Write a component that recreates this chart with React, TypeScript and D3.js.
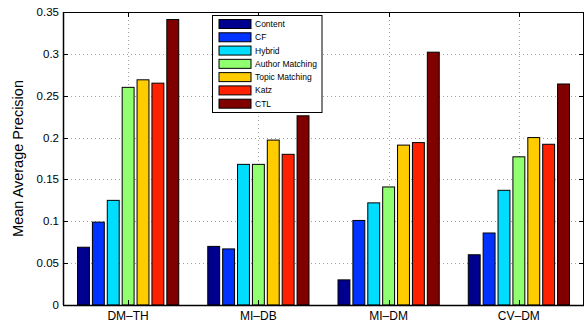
import React from "react";
import * as d3 from "d3";

const categories = ["DM–TH", "MI–DB", "MI–DM", "CV–DM"];
const methods = ["Content", "CF", "Hybrid", "Author Matching", "Topic Matching", "Katz", "CTL"];
const colors = ["#00008f", "#0033ff", "#00ddff", "#90ff70", "#ffcc00", "#ff2200", "#800000"];

const content = [0.069, 0.07, 0.03, 0.06];
const cf = [0.099, 0.067, 0.101, 0.086];
const hybrid = [0.125, 0.168, 0.122, 0.137];
const author = [0.26, 0.168, 0.141, 0.177];
const topic = [0.269, 0.197, 0.191, 0.2];
const katz = [0.265, 0.18, 0.194, 0.192];
const ctl = [0.341, 0.226, 0.302, 0.264];
const yTicks = [0, 0.05, 0.1, 0.15, 0.2, 0.25, 0.3, 0.35];

const series = [content, cf, hybrid, author, topic, katz, ctl];

const width = 587;
const height = 324;
const left = 63;
const right = 584;
const top = 12;
const bottom = 305;
const font = "Arial, 'Liberation Sans', Helvetica, sans-serif";

const x0 = d3.scaleBand().domain(categories).range([left, right]).paddingInner(0.2).paddingOuter(0.1);
const x1 = d3.scaleBand().domain(methods).range([0, x0.bandwidth()]).paddingInner(0.2).paddingOuter(0.1);
const y = d3.scaleLinear().domain([0, 0.35]).range([bottom, top]);

const fmt = (v: number) => (v === 0 ? "0" : String(+v.toFixed(2)));

export default function App() {
  const centers = categories.map((c) => x0(c)! + x0.bandwidth() / 2);
  return (
    <svg width={width} height={height} style={{ position: "absolute", left: 0, top: 0, background: "#fff" }}>
      <rect x={0} y={0} width={width} height={height} fill="#fff" />
      {/* grid */}
      <g stroke="#888" strokeWidth={0.8} strokeDasharray="1,3">
        {yTicks.slice(1, -1).map((t) => (
          <line key={t} x1={left} x2={right} y1={Math.round(y(t)) + 0.5} y2={Math.round(y(t)) + 0.5} />
        ))}
        {centers.map((cx, i) => (
          <line key={i} x1={Math.round(cx) + 0.5} x2={Math.round(cx) + 0.5} y1={top} y2={bottom} />
        ))}
      </g>
      {/* bars */}
      {series.map((vals, si) =>
        vals.map((v, ci) => (
          <rect
            key={si + "-" + ci}
            x={x0(categories[ci])! + x1(methods[si])!}
            y={y(v)}
            width={x1.bandwidth()}
            height={bottom - y(v)}
            fill={colors[si]}
            stroke="#000"
            strokeWidth={1}
          />
        ))
      )}
      {/* frame */}
      <rect x={left + 0.5} y={top + 0.5} width={right - left - 1} height={bottom - top} fill="none" stroke="#000" strokeWidth={1} />
      <line x1={left} x2={right} y1={bottom + 0.5} y2={bottom + 0.5} stroke="#000" strokeWidth={1.5} />
      <line x1={left + 0.5} x2={left + 0.5} y1={top} y2={bottom} stroke="#000" strokeWidth={1.5} />
      {/* ticks */}
      <g stroke="#000" strokeWidth={1}>
        {yTicks.map((t) => (
          <g key={t}>
            <line x1={left} x2={left + 5} y1={Math.round(y(t)) + 0.5} y2={Math.round(y(t)) + 0.5} />
            <line x1={right - 5} x2={right} y1={Math.round(y(t)) + 0.5} y2={Math.round(y(t)) + 0.5} />
          </g>
        ))}
        {centers.map((cx, i) => (
          <g key={i}>
            <line x1={Math.round(cx) + 0.5} x2={Math.round(cx) + 0.5} y1={top} y2={top + 5} />
            <line x1={Math.round(cx) + 0.5} x2={Math.round(cx) + 0.5} y1={bottom - 5} y2={bottom} />
          </g>
        ))}
      </g>
      {/* y tick labels */}
      <g fontFamily={font} fontSize={11.5} textAnchor="end" fill="#000">
        {yTicks.map((t) => (
          <text key={t} x={left - 4} y={y(t) + 4}>
            {fmt(t)}
          </text>
        ))}
      </g>
      {/* x tick labels */}
      <g fontFamily={font} fontSize={12} textAnchor="middle" fill="#000">
        {categories.map((c, i) => (
          <text key={c} x={centers[i]} y={319.5}>
            {c}
          </text>
        ))}
      </g>
      <text
        transform={`translate(23, ${(top + bottom) / 2}) rotate(-90)`}
        textAnchor="middle"
        fontFamily={font}
        fontSize={14.5}
        fill="#000"
      >
        Mean Average Precision
      </text>
      {/* legend */}
      <g>
        <rect x={212.5} y={15.5} width={109.5} height={97} fill="#fff" stroke="#000" strokeWidth={1} />
        {methods.map((m, i) => {
          const cy = 24 + i * 13.28;
          return (
            <g key={m}>
              <rect x={219} y={cy - 4.5} width={32} height={9} fill={colors[i]} stroke="#000" strokeWidth={1} />
              <text x={255} y={cy + 3} fontFamily={font} fontSize={8.5} fill="#000">
                {m}
              </text>
            </g>
          );
        })}
      </g>
    </svg>
  );
}
